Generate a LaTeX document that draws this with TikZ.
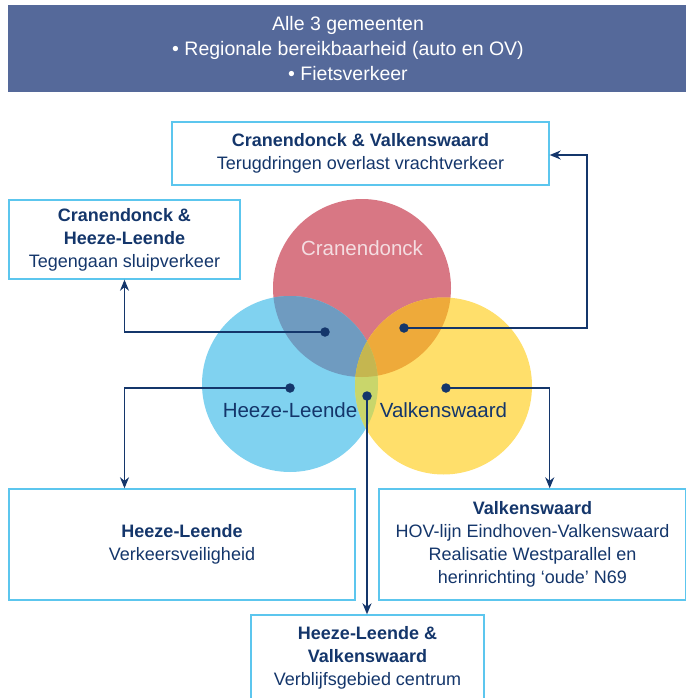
\documentclass[tikz,border=0pt]{standalone}
\usepackage{fontspec}
\setmainfont{Liberation Sans}
\usepackage{tikz}
\usetikzlibrary{arrows.meta,positioning}
\definecolor{banner}{HTML}{55699A}
\definecolor{navy}{HTML}{14366B}
\definecolor{kaderline}{HTML}{5CC6EE}
\definecolor{cRed}{HTML}{D87784}
\definecolor{cBlue}{HTML}{80D2F0}
\definecolor{cYellow}{HTML}{FFDF6B}
\definecolor{cRB}{HTML}{6F9BC0}
\definecolor{cRY}{HTML}{EEAA3A}
\definecolor{cBY}{HTML}{C9D66B}
\definecolor{cRBY}{HTML}{C5B650}
\definecolor{paleRed}{HTML}{F4DDE1}
\tikzset{
  kader/.style ={draw=kaderline,line width=1.4pt,fill=white,inner sep=0pt,
                 align=center,text=navy,font=\fontsize{18}{23}\selectfont},
  setlabel/.style={inner sep=0pt,font=\fontsize{20.5}{24}\selectfont},
  dot/.style   ={circle,fill=navy,inner sep=0pt,minimum size=9.5pt},
  link/.style  ={-{Stealth[length=11pt,width=9pt,inset=3.5pt]},line width=1.5pt,draw=navy}
}
\begin{document}
\begin{tikzpicture}[x=1pt,y=-1pt]
    \useasboundingbox (0,0) rectangle (685,698);
    % banner
    \node[fill=banner,text=white,inner sep=0pt,minimum width=680pt,minimum height=87pt,
          align=center,font=\fontsize{19.5}{25}\selectfont] (alle) at (348,48.5)
      {Alle 3 gemeenten\\• Regionale bereikbaarheid (auto en OV)\\• Fietsverkeer};
    % the three circles and their overlaps
    \fill[cRed]    (362,288) circle (89pt);
    \fill[cBlue]   (290,384) circle (88pt);
    \fill[cYellow] (443.5,386) circle (88.5pt);
    \begin{scope}
      \clip (362,288) circle (89pt);
      \fill[cRB] (290,384) circle (88pt);
      \fill[cRY] (443.5,386) circle (88.5pt);
    \end{scope}
    \begin{scope}
      \clip (290,384) circle (88pt);
      \fill[cBY] (443.5,386) circle (88.5pt);
      \clip (362,288) circle (89pt);
      \fill[cRBY] (443.5,386) circle (88.5pt);
    \end{scope}
    \node[setlabel,text=paleRed] (lC) at (362,248) {Cranendonck};
    \node[setlabel,text=navy]    (lH) at (290,410) {Heeze-Leende};
    \node[setlabel,text=navy]    (lV) at (443.5,410) {Valkenswaard};
    % boxes
    \node[kader,minimum width=377pt,minimum height=63pt] (CV) at (360.5,153.5)
      {\textbf{Cranendonck \& Valkenswaard}\\Terugdringen overlast vrachtverkeer};
    \node[kader,minimum width=231pt,minimum height=79pt] (CH) at (124.5,239.5)
      {\textbf{Cranendonck \&}\\\textbf{Heeze-Leende}\\Tegengaan sluipverkeer};
    \node[kader,minimum width=346pt,minimum height=111pt] (HL) at (182,544.5)
      {\textbf{Heeze-Leende}\\Verkeersveiligheid};
    \node[kader,minimum width=307pt,minimum height=111pt] (V) at (532.5,544.5)
      {\textbf{Valkenswaard}\\HOV-lijn Eindhoven-Valkenswaard\\Realisatie Westparallel en\\herinrichting ‘oude’ N69};
    \node[kader,minimum width=233pt,minimum height=86pt] (HV) at (367.5,658)
      {\textbf{Heeze-Leende \&}\\\textbf{Valkenswaard}\\Verblijfsgebied centrum};
    % dots
    \node[dot] (dCV) at (404,328) {};
    \node[dot] (dCH) at (325,332) {};
    \node[dot] (dH)  at (290,388) {};
    \node[dot] (dV)  at (446,388) {};
    \node[dot] (dHV) at (367,396) {};
    \coordinate (hCV) at (587,155);
    % connectors
    \draw[link] (dCV.center) -| (hCV) -- (CV.east |- hCV);
    \draw[link] (dCH.center) -| (CH.south);
    \draw[link] (dH.center) -| (CH.south |- HL.north);
    \draw[link] (dV.center) -| (CV.east |- V.north);
    \draw[link] (dHV.center) -- (dHV |- HV.north);
  \end{tikzpicture}
\end{document}
